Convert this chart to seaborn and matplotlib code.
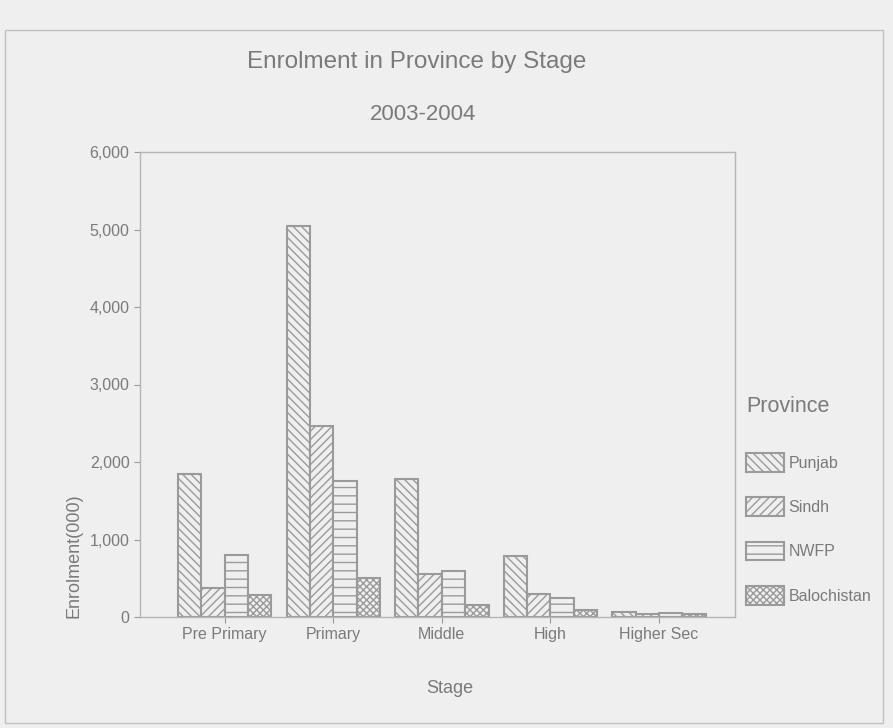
import numpy as np
import pandas as pd
import seaborn as sns
import matplotlib.pyplot as plt
from matplotlib.patches import Rectangle
from matplotlib.ticker import StrMethodFormatter

# Data (enrolment in thousands)
stages = ['Pre Primary', 'Primary', 'Middle', 'High', 'Higher Sec']
provinces = ['Punjab', 'Sindh', 'NWFP', 'Balochistan']
punjab = [1850, 5050, 1780, 790, 60]
sindh = [380, 2470, 560, 300, 40]
nwfp = [800, 1760, 600, 240, 50]
balochistan = [280, 500, 150, 90, 40]
yticks = [0, 1000, 2000, 3000, 4000, 5000, 6000]

values = [punjab, sindh, nwfp, balochistan]
df = pd.DataFrame({
    'Stage': stages * len(provinces),
    'Province': np.repeat(provinces, len(stages)),
    'Enrolment': np.concatenate(values),
})

bg = '#efefef'
grey = '#9a9a9a'
text_grey = '#7a7a7a'

sns.set_style('white')
plt.rcParams['font.family'] = ['Liberation Sans', 'DejaVu Sans']
plt.rcParams['hatch.linewidth'] = 1.0

fig = plt.figure(figsize=(8.93, 7.28), dpi=100, facecolor=bg)
ax = fig.add_axes([140 / 893, 1 - 617 / 728, 595 / 893, 465 / 728])
ax.set_facecolor(bg)

sns.barplot(data=df, x='Stage', y='Enrolment', hue='Province', order=stages,
            hue_order=provinces, palette={p: bg for p in provinces},
            width=0.86, ax=ax, legend=False)

# Hatched, grey-outlined bars
hatches = ['\\\\\\\\', '////', '--', 'xxxxx']
for cont, h in zip(ax.containers, hatches):
    for bar in cont:
        bar.set_facecolor(bg)
        bar.set_edgecolor(grey)
        bar.set_hatch(h)
        bar.set_linewidth(1.5)

ax.set_ylim(0, 6000)
ax.set_xlim(-0.78, 4.7)
ax.set_yticks(yticks)
ax.yaxis.set_major_formatter(StrMethodFormatter('{x:,.0f}'))
ax.tick_params(axis='both', colors=grey, labelcolor=text_grey, labelsize=11.5,
               length=4, direction='out', left=True, bottom=True)
for sp in ax.spines.values():
    sp.set_color('#b5b5b5')
    sp.set_linewidth(1)

ax.set_xlabel('Stage', fontsize=13, color=text_grey)
ax.set_ylabel('Enrolment(000)', fontsize=13, color=text_grey)
ax.xaxis.set_label_coords(0.52, -0.135)
ax.yaxis.set_label_coords(-0.097, 0.131)

fig.text(417 / 893, 1 - 62 / 728, 'Enrolment in Province by Stage',
         ha='center', va='center', fontsize=17.5, color=text_grey)
fig.text(423 / 893, 1 - 115 / 728, '2003-2004',
         ha='center', va='center', fontsize=16, color=text_grey)

leg = ax.legend(ax.containers, provinces, title='Province', loc='upper left',
                bbox_to_anchor=(746 / 893, 1 - 396 / 728),
                bbox_transform=fig.transFigure, frameon=False,
                fontsize=11.5, title_fontsize=15.5, handlelength=2.4,
                handleheight=1.4, labelspacing=1.62, handletextpad=0.25,
                borderaxespad=0, borderpad=0)
leg._legend_box.align = 'left'
leg._legend_box.sep = 26
leg.get_title().set_color(text_grey)
for t in leg.get_texts():
    t.set_color(text_grey)

# Outer chart frame
fig.add_artist(Rectangle((5 / 893, 5 / 728), 878 / 893, 693 / 728,
                         transform=fig.transFigure, fill=False,
                         edgecolor='#c0c0c0', linewidth=1))

fig.savefig('out.png', dpi=100, facecolor=bg)
